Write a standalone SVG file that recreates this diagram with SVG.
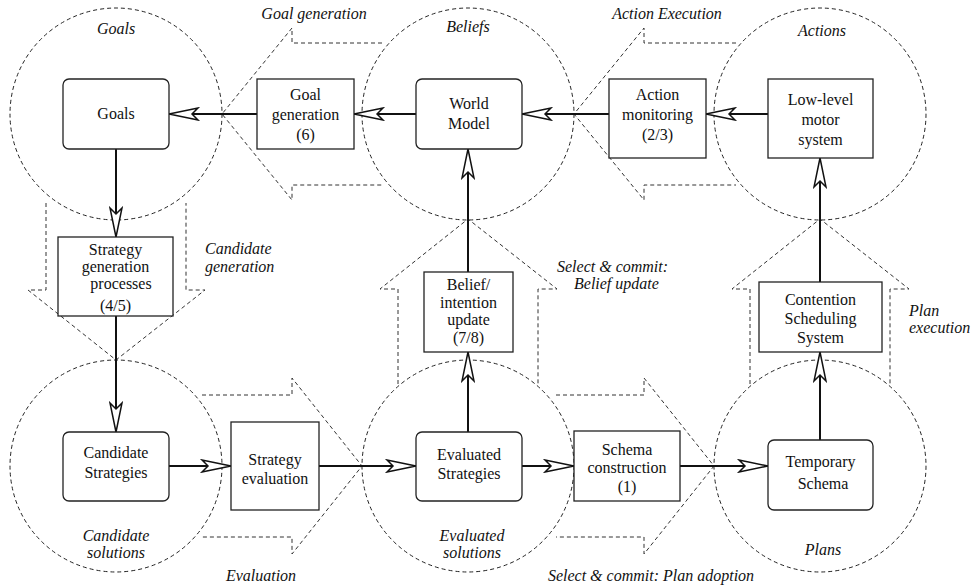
<svg xmlns="http://www.w3.org/2000/svg" width="975" height="587" viewBox="0 0 975 587" font-family="Liberation Serif, Times New Roman, Times, serif" font-size="16">
<style>
.bg{fill:#fff}
.zone{fill:none;stroke:#222;stroke-width:1;stroke-dasharray:4 3}
.flow{fill:none;stroke:#333;stroke-width:1;stroke-dasharray:4 3}
.box{fill:#fff;stroke:#222;stroke-width:1.3}
text{fill:#111}
.t{text-anchor:middle}
.it{font-style:italic}
.c{text-anchor:middle}
.conn{fill:none;stroke:#111;stroke-width:2;marker-end:url(#ah)}
</style>
<defs>
<marker id="ah" markerUnits="userSpaceOnUse" viewBox="0 0 33 14" refX="31" refY="7" markerWidth="33" markerHeight="14" orient="auto">
<path d="M31,7 L2,1 L8,7 L2,13 Z" fill="#fff" stroke="#111" stroke-width="1.5" stroke-linejoin="miter"/>
</marker>
</defs>
<rect class="bg" x="0" y="0" width="975" height="587"/>

<g id="regions">
<circle class="zone" cx="116" cy="114" r="106"/>
<circle class="zone" cx="468" cy="114" r="106"/>
<circle class="zone" cx="820" cy="114" r="106"/>
<circle class="zone" cx="116" cy="466" r="106"/>
<circle class="zone" cx="468" cy="466" r="106"/>
<circle class="zone" cx="820" cy="466" r="106"/>
<path class="flow" d="M382,43 H292 V28 L222,114 L292,200 V185 H382"/>
<path class="flow" d="M736,43 H644 V28 L574,114 L644,200 V185 H736"/>
<path class="flow" d="M46,203 V290 H28 L116,360 L205,290 H186 V203"/>
<path class="flow" d="M398,384 V289 H380 L468,219 L557,289 H538 V384"/>
<path class="flow" d="M750,384 V289 H732 L820,219 L909,289 H890 V384"/>
<path class="flow" d="M202,395 H292 V378 L362,466 L292,554 V537 H202"/>
<path class="flow" d="M556,395 H644 V378 L714,466 L644,554 V537 H556"/>
</g>

<g id="labels">
<text class="it c" x="116" y="34">Goals</text>
<text class="it c" x="314" y="19">Goal generation</text>
<text class="it c" x="468" y="32">Beliefs</text>
<text class="it c" x="667" y="19">Action Execution</text>
<text class="it c" x="822" y="36">Actions</text>
<text class="it" x="205" y="254">Candidate</text>
<text class="it" x="205" y="272">generation</text>
<text class="it" x="557" y="272">Select &amp; commit:</text>
<text class="it" x="574" y="289">Belief update</text>
<text class="it" x="909" y="316">Plan</text>
<text class="it" x="909" y="333">execution</text>
<text class="it c" x="116" y="541">Candidate</text>
<text class="it c" x="116" y="558">solutions</text>
<text class="it c" x="261" y="581">Evaluation</text>
<text class="it c" x="472" y="541">Evaluated</text>
<text class="it c" x="472" y="558">solutions</text>
<text class="it c" x="651" y="581">Select &amp; commit: Plan adoption</text>
<text class="it c" x="823" y="555">Plans</text>
</g>

<g id="connectors">
<line class="conn" x1="257" y1="114" x2="169" y2="114"/>
<line class="conn" x1="416" y1="114" x2="354" y2="114"/>
<line class="conn" x1="609" y1="114" x2="522" y2="114"/>
<line class="conn" x1="768" y1="114" x2="706" y2="114"/>
<line class="conn" x1="116" y1="149" x2="116" y2="237"/>
<line class="conn" x1="116" y1="316" x2="116" y2="432"/>
<line class="conn" x1="169" y1="466" x2="231" y2="466"/>
<line class="conn" x1="319" y1="466" x2="416" y2="466"/>
<line class="conn" x1="522" y1="466" x2="574" y2="466"/>
<line class="conn" x1="680" y1="466" x2="768" y2="466"/>
<line class="conn" x1="820" y1="440" x2="820" y2="352"/>
<line class="conn" x1="820" y1="282" x2="820" y2="158"/>
<line class="conn" x1="468" y1="432" x2="468" y2="352"/>
<line class="conn" x1="468" y1="272" x2="468" y2="149"/>
</g>

<g id="goals">
<rect class="box" x="63" y="79" width="106" height="70" rx="6"/>
<text class="t" x="116" y="119">Goals</text>
</g>
<g id="goal-generation">
<rect class="box" x="257" y="79" width="97" height="70"/>
<text class="t" x="305.5" y="100">Goal</text>
<text class="t" x="305.5" y="120">generation</text>
<text class="t" x="305.5" y="140">(6)</text>
</g>
<g id="world-model">
<rect class="box" x="416" y="79" width="106" height="70" rx="6"/>
<text class="t" x="469" y="109">World</text>
<text class="t" x="469" y="129">Model</text>
</g>
<g id="action-monitoring">
<rect class="box" x="609" y="79" width="97" height="79"/>
<text class="t" x="657.5" y="100">Action</text>
<text class="t" x="657.5" y="120">monitoring</text>
<text class="t" x="657.5" y="140">(2/3)</text>
</g>
<g id="low-level-motor">
<rect class="box" x="768" y="79" width="105" height="79"/>
<text class="t" x="820.5" y="105">Low-level</text>
<text class="t" x="820.5" y="125">motor</text>
<text class="t" x="820.5" y="145">system</text>
</g>
<g id="strategy-generation">
<rect class="box" x="58" y="237" width="115" height="79"/>
<text class="t" x="115.5" y="255">Strategy</text>
<text class="t" x="115.5" y="272">generation</text>
<text class="t" x="121" y="289">processes</text>
<text class="t" x="115.5" y="311">(4/5)</text>
</g>
<g id="belief-update">
<rect class="box" x="424" y="272" width="89" height="80"/>
<text class="t" x="468.5" y="290">Belief/</text>
<text class="t" x="468.5" y="308">intention</text>
<text class="t" x="468.5" y="325">update</text>
<text class="t" x="468.5" y="343">(7/8)</text>
</g>
<g id="contention-scheduling">
<rect class="box" x="759" y="282" width="123" height="70"/>
<text class="t" x="820.5" y="305">Contention</text>
<text class="t" x="820.5" y="324">Scheduling</text>
<text class="t" x="820.5" y="343">System</text>
</g>
<g id="candidate-strategies">
<rect class="box" x="63" y="432" width="106" height="69" rx="6"/>
<text class="t" x="116" y="458">Candidate</text>
<text class="t" x="116" y="478">Strategies</text>
</g>
<g id="strategy-evaluation">
<rect class="box" x="231" y="422" width="88" height="88"/>
<text class="t" x="275" y="465">Strategy</text>
<text class="t" x="275" y="484">evaluation</text>
</g>
<g id="evaluated-strategies">
<rect class="box" x="416" y="432" width="106" height="69" rx="6"/>
<text class="t" x="469" y="460">Evaluated</text>
<text class="t" x="469" y="479">Strategies</text>
</g>
<g id="schema-construction">
<rect class="box" x="574" y="431" width="106" height="70"/>
<text class="t" x="627" y="455">Schema</text>
<text class="t" x="627" y="473">construction</text>
<text class="t" x="627" y="492">(1)</text>
</g>
<g id="temporary-schema">
<rect class="box" x="768" y="440" width="105" height="70" rx="6"/>
<text class="t" x="820.5" y="467">Temporary</text>
<text class="t" x="823" y="489">Schema</text>
</g>
</svg>
